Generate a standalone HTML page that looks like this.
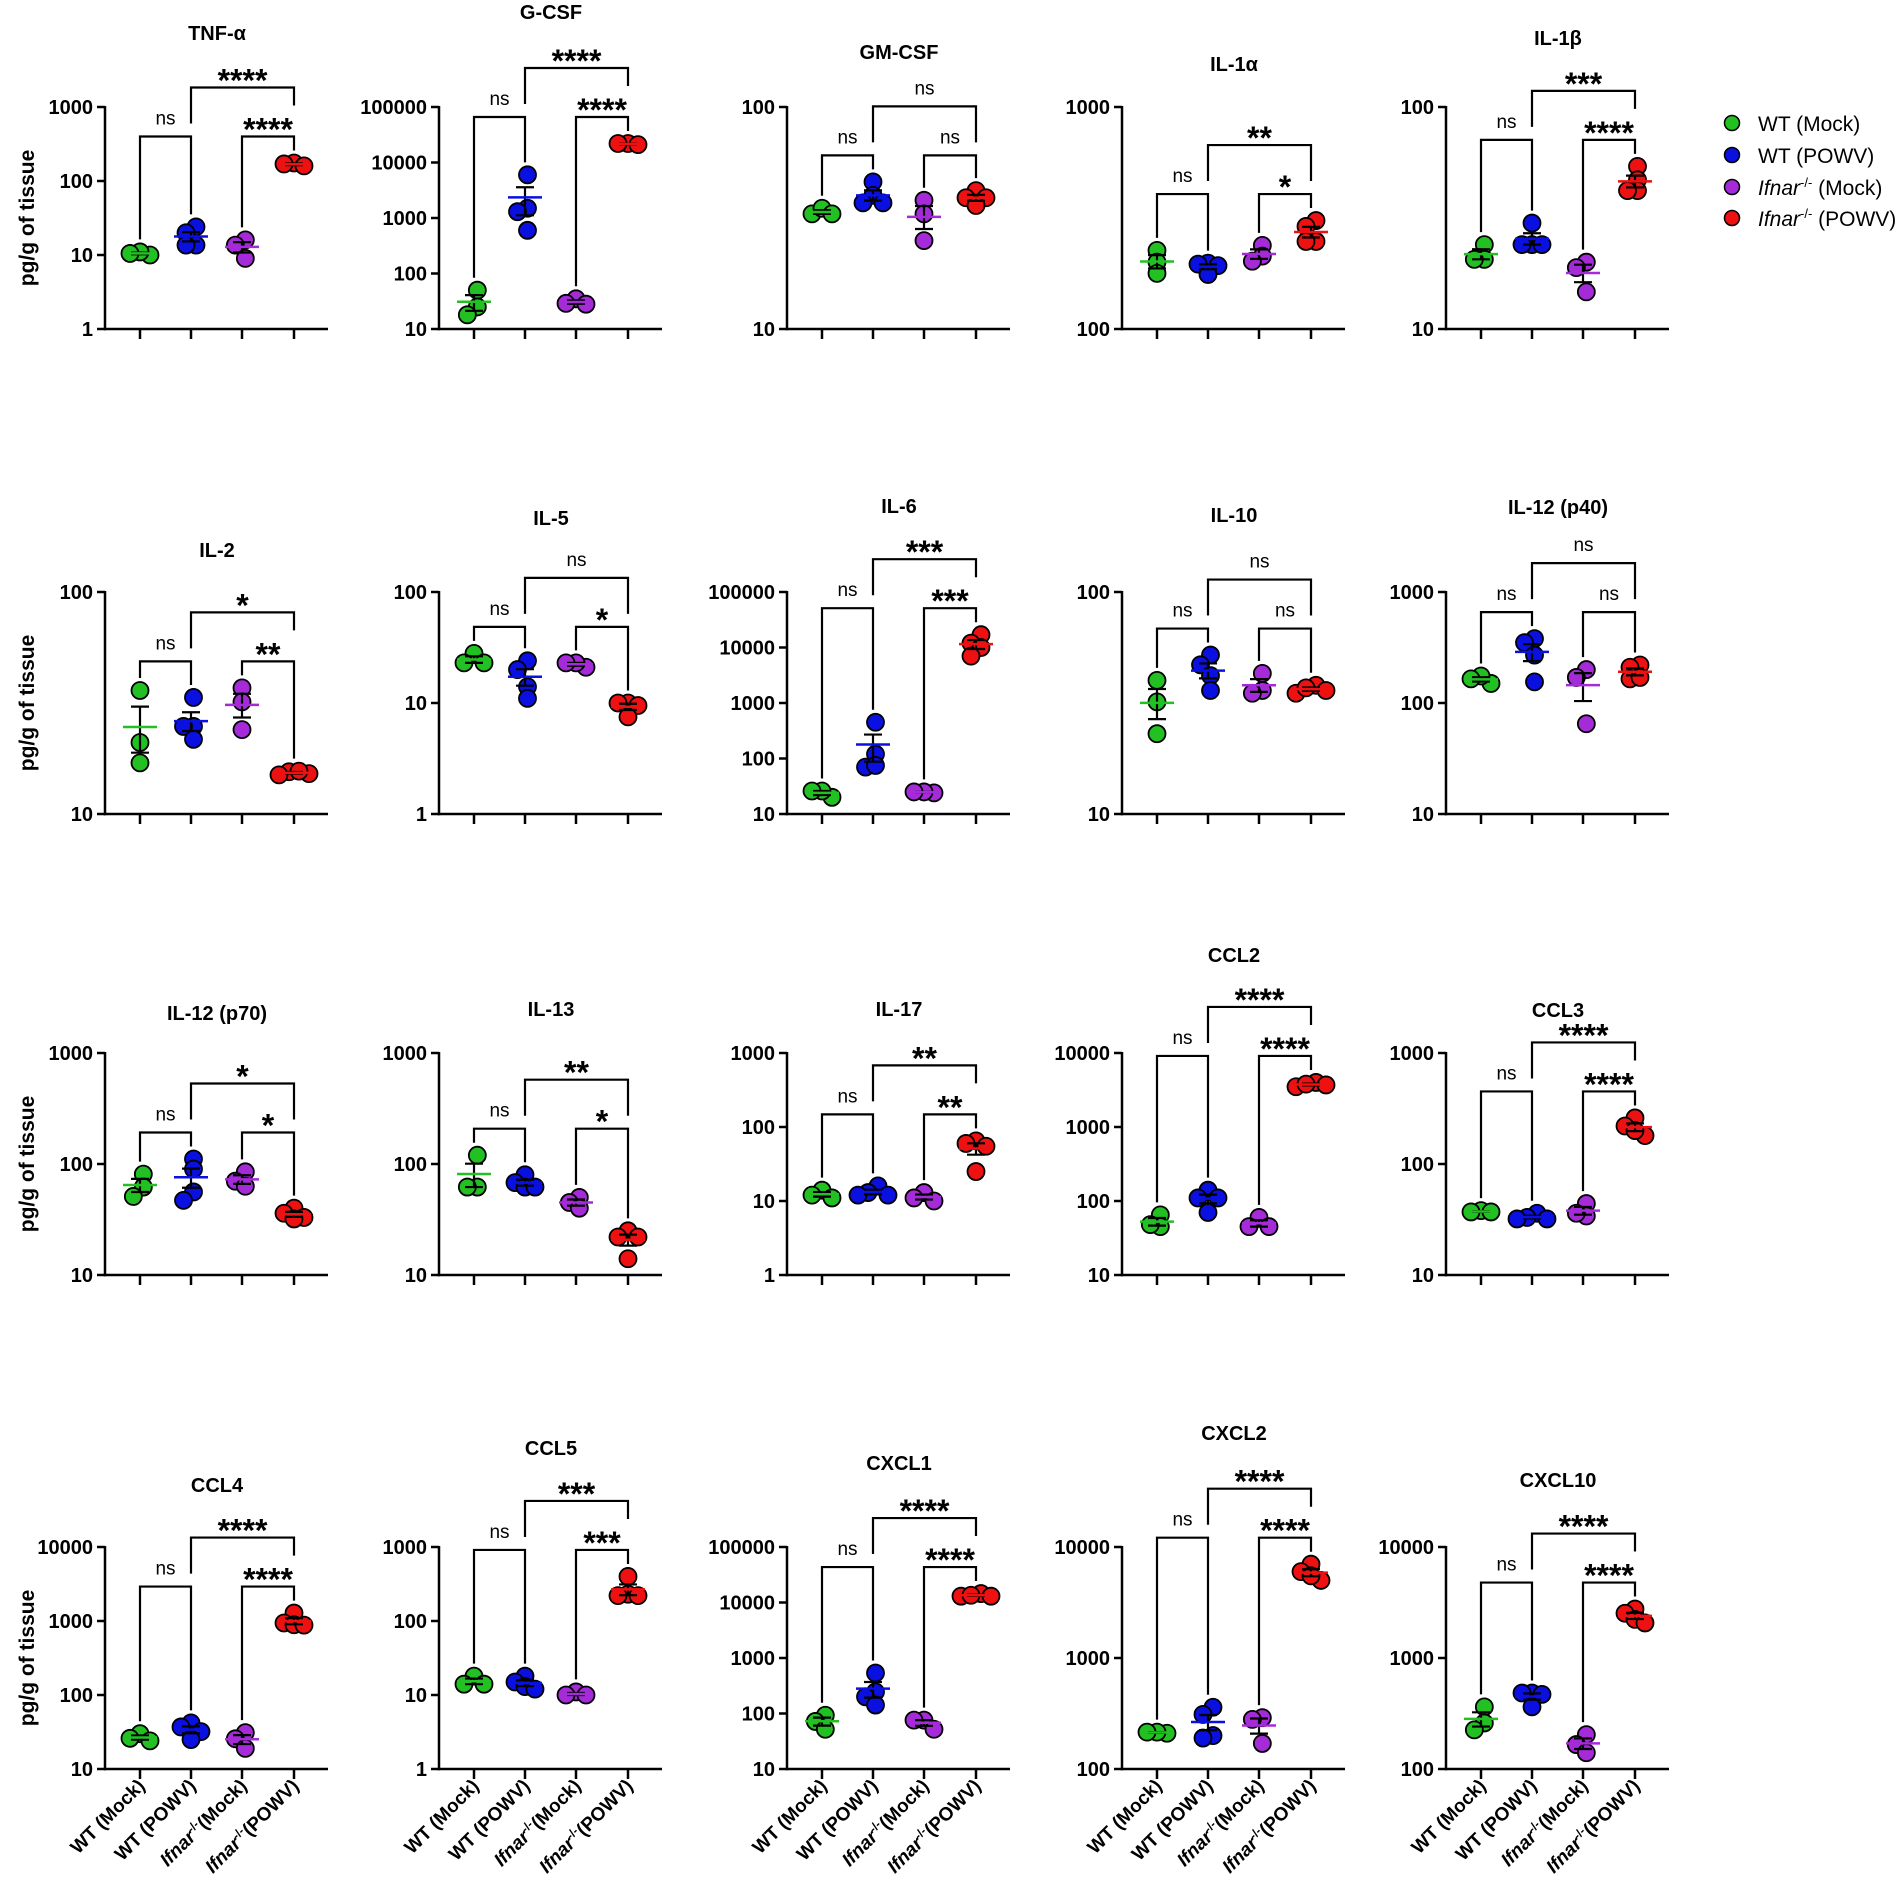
<!DOCTYPE html>
<html><head><meta charset="utf-8">
<style>
html,body{margin:0;padding:0;background:#fff;}
svg{display:block;font-family:"Liberation Sans",Arial,sans-serif;}
</style></head>
<body>
<svg id="chart" width="1902" height="1891" viewBox="0 0 1902 1891" xmlns="http://www.w3.org/2000/svg">
<g id="legend">
  <g><circle cx="1732" cy="123" r="7.5" fill="#22c022" stroke="#000" stroke-width="1.5"/><text x="1758" y="131" font-size="21">WT (Mock)</text></g>
  <g><circle cx="1732" cy="155" r="7.5" fill="#0a10e0" stroke="#000" stroke-width="1.5"/><text x="1758" y="163" font-size="21">WT (POWV)</text></g>
  <g><circle cx="1732" cy="187" r="7.5" fill="#a52ad8" stroke="#000" stroke-width="1.5"/><text x="1758" y="195" font-size="21"><tspan font-style="italic">Ifnar</tspan><tspan font-size="13" dy="-8">-/-</tspan><tspan dy="8"> (Mock)</tspan></text></g>
  <g><circle cx="1732" cy="218" r="7.5" fill="#ee1111" stroke="#000" stroke-width="1.5"/><text x="1758" y="226" font-size="21"><tspan font-style="italic">Ifnar</tspan><tspan font-size="13" dy="-8">-/-</tspan><tspan dy="8"> (POWV)</tspan></text></g>
</g>
</svg>
<script>
// ---- data ----
const titles = ["TNF-α","G-CSF","GM-CSF","IL-1α","IL-1β","IL-2","IL-5","IL-6","IL-10","IL-12 (p40)","IL-12 (p70)","IL-13","IL-17","CCL2","CCL3","CCL4","CCL5","CXCL1","CXCL2","CXCL10"];
const yMinExp = [0,1,1,2,1, 1,0,1,1,1, 1,1,0,1,1, 1,0,1,2,2];
const yMaxExp = [3,5,2,3,2, 2,2,5,2,3, 3,3,3,4,3, 4,3,5,4,4];
const wtMock = [[10,11,10.5],[50,25,18],[33,35,33],[226,200,178],[24,20.6,20.6],
 [36,21,17],[28,23,23],[20,26,26],[40,32,23],[150,175,165],
 [81,62,51],[120,62,62],[14,11,12],[65,45,48],[38,37,37],
 [30,26,24],[18,14,14],[93,72,52],[210,215,215],[363,260,225]];
const wtPowv = [[24,20,13.6,13.6],[6000,1500,1300,600],[46,40,37,37],[198,196,193,176],[30,24,24,24],
 [33.5,24.8,24.8,21.7],[24,20,14,11],[450,120,70,75],[52,47,42,36],[380,350,270,155],
 [111,90,56,47],[80,68,62,62],[16,13,12,12],[140,110,110,70],[36,33,32,32],
 [42,37,32,25],[18,15,13,12],[537,245,200,142],[360,310,200,190],[484,484,470,363]];
const koMock = [[16,13.6,9],[35,29,28],[38,33,25],[238,213,202],[20,18.9,14.7],
 [37,32,24],[21,23,23],[24,25,25],[43,36,35],[200,170,65],
 [85,70,63],[50,45,40],[13,11,10],[60,45,45],[44,34,36],
 [31,25.6,19],[11,10,10],[76,76,52],[290,280,170],[204,166,140]];
const koPowv = [[175,170,160],[22000,21000,22000],[42,39,39,36],[308,290,248,248],[54,47,42,42],
 [15.5,15.2,15.6,15],[10,10,9.5,7.5],[17000,12000,10000,7000],[38,36,35,37],[220,210,165,170],
 [40,36,33,32],[25,22,22,14],[65,55,60,25],[4000,3500,3800,3700],[260,220,180,200],
 [1280,940,890,880],[400,230,220,220],[14500,13000,13000,13500],[7000,6000,5000,5500],[2760,2530,2230,2070]];
const sigLeft  = ["ns","ns","ns","ns","ns","ns","ns","ns","ns","ns","ns","ns","ns","ns","ns","ns","ns","ns","ns","ns"];
const sigRight = ["****","****","ns","*","****","**","*","***","ns","ns","*","*","**","****","****","****","***","****","****","****"];
const sigTop   = ["****","****","ns","**","***","*","ns","***","ns","ns","*","**","**","****","****","****","***","****","****","****"];
const groupNames = ["WT (Mock)","WT (POWV)","Ifnar-/- (Mock)","Ifnar-/- (POWV)"];

// ---- layout (not data) ----
const colX = [105,439,787,1122,1446];
const rowTop = [107,592,1053,1547];
const plotH = 222;
const tickOff = [35,86,137,189];
const axisLen = 223;
const titleY = [40,19,59,71,45, 557,525,513,522,514, 1020,1016,1016,962,1017, 1492,1455,1470,1440,1487];
const colors = ["#22c022","#0a10e0","#a52ad8","#ee1111"];
const R = 8.5;
const NS = "http://www.w3.org/2000/svg";
const svg = document.getElementById('chart');

function mk(tag, attrs, parent){
  const e = document.createElementNS(NS, tag);
  for (const k in attrs) e.setAttribute(k, attrs[k]);
  parent.appendChild(e);
  return e;
}

function swarm(vals, yfun){
  const order = vals.map((v,i)=>i).sort((a,b)=>vals[b]-vals[a]);
  const placed = [];
  const offs = new Array(vals.length).fill(0);
  const cands = [0,-10,10,-20,20,-30,30];
  order.forEach(i=>{
    const y = yfun(vals[i]);
    for (const c of cands){
      if (placed.every(p=>Math.hypot(p.x-c,p.y-y)>=10)){ offs[i]=c; placed.push({x:c,y:y}); break; }
    }
  });
  const m = offs.reduce((a,b)=>a+b,0)/offs.length;
  return offs.map(o=>o-m);
}

for (let p=0;p<20;p++){
  const col = p%5, row = Math.floor(p/5);
  const ax = colX[col], top = rowTop[row], bot = top+plotH;
  const lo = yMinExp[p], hi = yMaxExp[p];
  const y = v => bot - (Math.log10(v)-lo)/(hi-lo)*plotH;
  const tx = i => ax + tickOff[i];
  const g = mk('g',{},svg);
  
  

  const t = mk('text',{x:(tx(0)+tx(3))/2, y:titleY[p], 'font-size':20,'font-weight':'bold','text-anchor':'middle'},g);
  t.textContent = titles[p];
  
  

  const ya = mk('line',{x1:ax,y1:top-1,x2:ax,y2:bot+1.2,stroke:'#000','stroke-width':2.5},g);
  
  
  const xa = mk('line',{x1:ax-1.2,y1:bot,x2:ax+axisLen,y2:bot,stroke:'#000','stroke-width':2.5},g);
  
  
  for (let e=lo;e<=hi;e++){
    const yy = y(Math.pow(10,e));
    mk('line',{x1:ax-8,y1:yy,x2:ax,y2:yy,stroke:'#000','stroke-width':2.5},g);
    const lb = mk('text',{x:ax-12,y:yy+7,'font-size':20,'font-weight':'bold','text-anchor':'end'},g);
    lb.textContent = String(Math.pow(10,e));
    
    
  }
  for (let i=0;i<4;i++) mk('line',{x1:tx(i),y1:bot,x2:tx(i),y2:bot+10,stroke:'#000','stroke-width':2.5},g);

  if (col===0){
    const yt = mk('text',{x:0,y:0,'font-size':21,'font-weight':'bold','text-anchor':'middle',transform:`translate(34,${(top+bot)/2}) rotate(-90)`},g);
    yt.textContent = 'pg/g of tissue';
    
    
  }
  if (row===3){
    for (let i=0;i<4;i++){
      const xl = mk('text',{x:0,y:0,'font-size':19,'font-weight':'bold','text-anchor':'end',transform:`translate(${tx(i)+6},${bot+18}) rotate(-45)`},g);
      if (i<2){ xl.textContent = groupNames[i]; }
      else {
        const a = mk('tspan',{'font-style':'italic'},xl); a.textContent='Ifnar';
        const b = mk('tspan',{'font-size':12,dy:-7},xl); b.textContent='-/-';
        const c = mk('tspan',{dy:7},xl); c.textContent = i===2?'(Mock)':'(POWV)';
      }
      
      
    }
  }

  const groups = [wtMock[p], wtPowv[p], koMock[p], koPowv[p]];
  let minTop = Infinity;
  const gTop = [];
  groups.forEach((vals,gi)=>{
    const offs = swarm(vals,y);
    let gt = Infinity;
    vals.forEach((v,k)=>{
      const c = mk('circle',{cx:tx(gi)+offs[k],cy:y(v),r:R,fill:colors[gi],stroke:'#000','stroke-width':1.8},g);
      
      
      gt = Math.min(gt, y(v)-R);
    });
    gTop.push(gt); minTop = Math.min(minTop, gt);
    const n = vals.length, mean = vals.reduce((a,b)=>a+b,0)/n;
    const sd = Math.sqrt(vals.reduce((a,b)=>a+(b-mean)*(b-mean),0)/(n-1));
    const sem = sd/Math.sqrt(n);
    const yh = y(mean+sem), yl = y(Math.max(mean-sem, mean*0.05)), ym = y(mean);
    const eb = mk('g',{},g);
    
    
    mk('line',{x1:tx(gi),y1:yh,x2:tx(gi),y2:yl,stroke:'#000','stroke-width':2.2},eb);
    mk('line',{x1:tx(gi)-9,y1:yh,x2:tx(gi)+9,y2:yh,stroke:'#000','stroke-width':2.2},eb);
    mk('line',{x1:tx(gi)-9,y1:yl,x2:tx(gi)+9,y2:yl,stroke:'#000','stroke-width':2.2},eb);
    mk('line',{x1:tx(gi)-17,y1:ym,x2:tx(gi)+17,y2:ym,stroke:colors[gi],'stroke-width':2.5},eb);
  });

  const lowY = minTop - 18, topY = lowY - 49;
  const br = mk('g',{fill:'none',stroke:'#000','stroke-width':2.2},g);
  
  
  const rightLegTop = sigRight[p].length>=2 && sigRight[p]!=='ns' ? lowY-31 : lowY-13;
  mk('polyline',{points:`${tx(0)},${gTop[0]-4} ${tx(0)},${lowY} ${tx(1)},${lowY} ${tx(1)},${gTop[1]-4}`},br);
  mk('polyline',{points:`${tx(2)},${gTop[2]-4} ${tx(2)},${lowY} ${tx(3)},${lowY} ${tx(3)},${gTop[3]-4}`},br);
  mk('polyline',{points:`${tx(1)},${lowY-13} ${tx(1)},${topY} ${tx(3)},${topY} ${tx(3)},${rightLegTop}`},br);
  const labs = [[sigLeft[p],(tx(0)+tx(1))/2,lowY],[sigRight[p],(tx(2)+tx(3))/2,lowY],[sigTop[p],(tx(1)+tx(3))/2,topY]];
  labs.forEach(([s,x,ly])=>{
    let e;
    if (s==='ns') e = mk('text',{x:x,y:ly-12,'font-size':19,'text-anchor':'middle'},g);
    else e = mk('text',{x:x,y:ly+4,'font-size':32,'font-weight':'bold','text-anchor':'middle'},g);
    e.textContent = s;
    
    
  });
}
</script>
</body></html>
